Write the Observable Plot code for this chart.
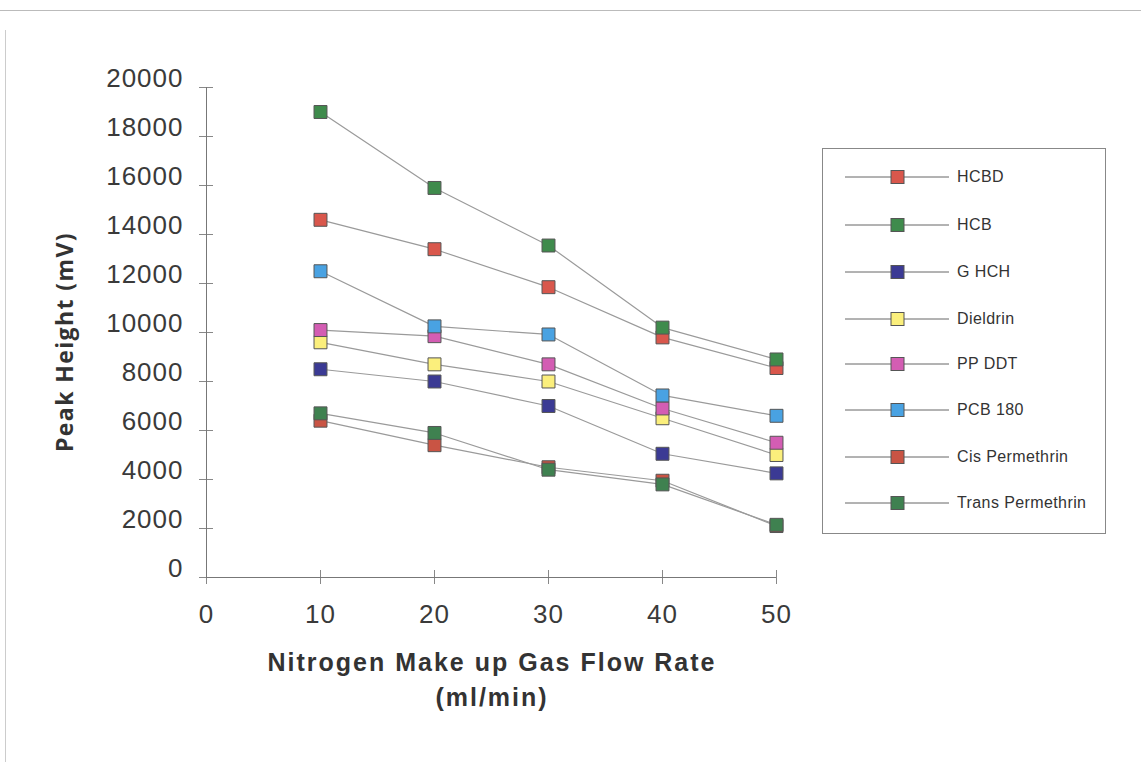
<!DOCTYPE html>
<html>
<head>
<meta charset="utf-8">
<script src="https://cdn.jsdelivr.net/npm/d3@7"></script>
<script src="https://cdn.jsdelivr.net/npm/@observablehq/plot@0.6"></script>
<style>
  html, body { margin: 0; padding: 0; background: #fff; }
  #wrap { position: relative; width: 1141px; height: 762px; overflow: hidden; }
  .frameTop { position: absolute; left: 0; top: 10px; width: 1141px; height: 0; border-top: 1px solid #bbb; }
  .frameLeft { position: absolute; left: 5px; top: 30px; width: 0; height: 740px; border-left: 1px solid #ccc; }
  .ytitle { position: absolute; left: 64px; top: 342px; transform: translate(-50%, -50%) rotate(-90deg);
            font: bold 23px "Open Sans", sans-serif; color: #333; white-space: nowrap; letter-spacing: 1.4px; }
  .xtitle { position: absolute; left: 492px; top: 645px; transform: translateX(-50%); text-align: center;
            font: bold 25px "Liberation Sans", Arial, sans-serif; color: #333; line-height: 35px; white-space: nowrap; letter-spacing: 2px; }
  #legend { position: absolute; left: 822px; top: 148px; width: 284px; height: 386px; border: 1px solid #888; box-sizing: border-box; }
  .lgItem { position: absolute; left: 0; height: 20px; display: flex; align-items: center; }
  .lgItem span { font: 16px "Liberation Sans", Arial, sans-serif; color: #333; margin-left: 8px; letter-spacing: 0.4px; }
</style>
</head>
<body>
<div id="wrap">
  <div class="frameTop"></div>
  <div class="frameLeft"></div>
  <div id="chart"></div>
  <div class="ytitle">Peak Height (mV)</div>
  <div class="xtitle">Nitrogen Make up Gas Flow Rate<br>(ml/min)</div>
  <div id="legend"></div>
</div>
<script>
// ---- data ----
const flowRates = [10, 20, 30, 40, 50];
const seriesNames = ["HCBD", "HCB", "G HCH", "Dieldrin", "PP DDT", "PCB 180", "Cis Permethrin", "Trans Permethrin"];
const hcbd            = [14600, 13400, 11850, 9800, 8550];
const hcb             = [19000, 15900, 13550, 10200, 8900];
const gHch            = [8500, 8000, 7000, 5050, 4250];
const dieldrin        = [9600, 8700, 8000, 6500, 5000];
const ppDdt           = [10100, 9850, 8700, 6900, 5500];
const pcb180          = [12500, 10250, 9920, 7430, 6600];
const cisPermethrin   = [6400, 5400, 4500, 3950, 2100];
const transPermethrin = [6700, 5900, 4400, 3800, 2150];
const seriesColors = ["#d9574c", "#3f8b4c", "#3b3a94", "#fbef7c", "#d35db3", "#49a2e2", "#c95444", "#3f8150"];
const xTicks = [0, 10, 20, 30, 40, 50];
const yTicks = [0, 2000, 4000, 6000, 8000, 10000, 12000, 14000, 16000, 18000, 20000];

const seriesValues = [hcbd, hcb, gHch, dieldrin, ppDdt, pcb180, cisPermethrin, transPermethrin];
const data = seriesNames.flatMap((name, i) => flowRates.map((x, j) => ({series: name, x, y: seriesValues[i][j]})));

const chart = Plot.plot({
  width: 1141,
  height: 762,
  marginLeft: 206,
  marginRight: 365,
  marginTop: 87,
  marginBottom: 185,
  style: {fontFamily: "'Liberation Sans', Arial, sans-serif", fontSize: "26px", color: "#3a3a3a", background: "transparent"},
  x: {domain: [0, 50]},
  y: {domain: [0, 20000]},
  color: {domain: seriesNames, range: seriesColors},
  marks: [
    Plot.axisY(yTicks, {tickSize: 0, tickPadding: 23, dy: -9, fill: "#3a3a3a", tickFormat: d => String(d), label: null}),
    Plot.axisY(yTicks, {tickSize: 7, stroke: "#888", tickFormat: () => "", label: null}),
    Plot.axisY(yTicks, {tickSize: -7, stroke: "#888", tickFormat: () => "", label: null}),
    Plot.axisX(xTicks, {tickSize: 7, tickPadding: 20, stroke: "#888", fill: "#3a3a3a", label: null}),
    Plot.axisX(xTicks, {tickSize: -7, stroke: "#888", tickFormat: () => "", label: null}),
    Plot.ruleX([0], {stroke: "#777"}),
    Plot.ruleY([0], {stroke: "#777"}),
    Plot.line(data, {x: "x", y: "y", z: "series", stroke: "#9a9a9a", strokeWidth: 1.2}),
    Plot.dot(data, {x: "x", y: "y", fill: "series", symbol: "square", r: 7.3, stroke: "#555", strokeWidth: 1})
  ]
});
chart.querySelectorAll("text").forEach(t => t.setAttribute("letter-spacing", "1"));
document.getElementById("chart").appendChild(chart);

// ---- legend ----
const legend = document.getElementById("legend");
const rowTops = [28, 76, 123, 170, 215, 261, 308, 354];
seriesNames.forEach((name, i) => {
  const row = document.createElement("div");
  row.className = "lgItem";
  row.style.top = (rowTops[i] - 10) + "px";
  row.style.left = "22px";
  row.innerHTML = `<svg width="104" height="20"><line x1="0" x2="104" y1="10" y2="10" stroke="#666" stroke-width="1"/>` +
    `<rect x="46" y="3.5" width="13" height="13" fill="${seriesColors[i]}" stroke="#555" stroke-width="1"/></svg><span>${name}</span>`;
  legend.appendChild(row);
});
</script>
</body>
</html>
